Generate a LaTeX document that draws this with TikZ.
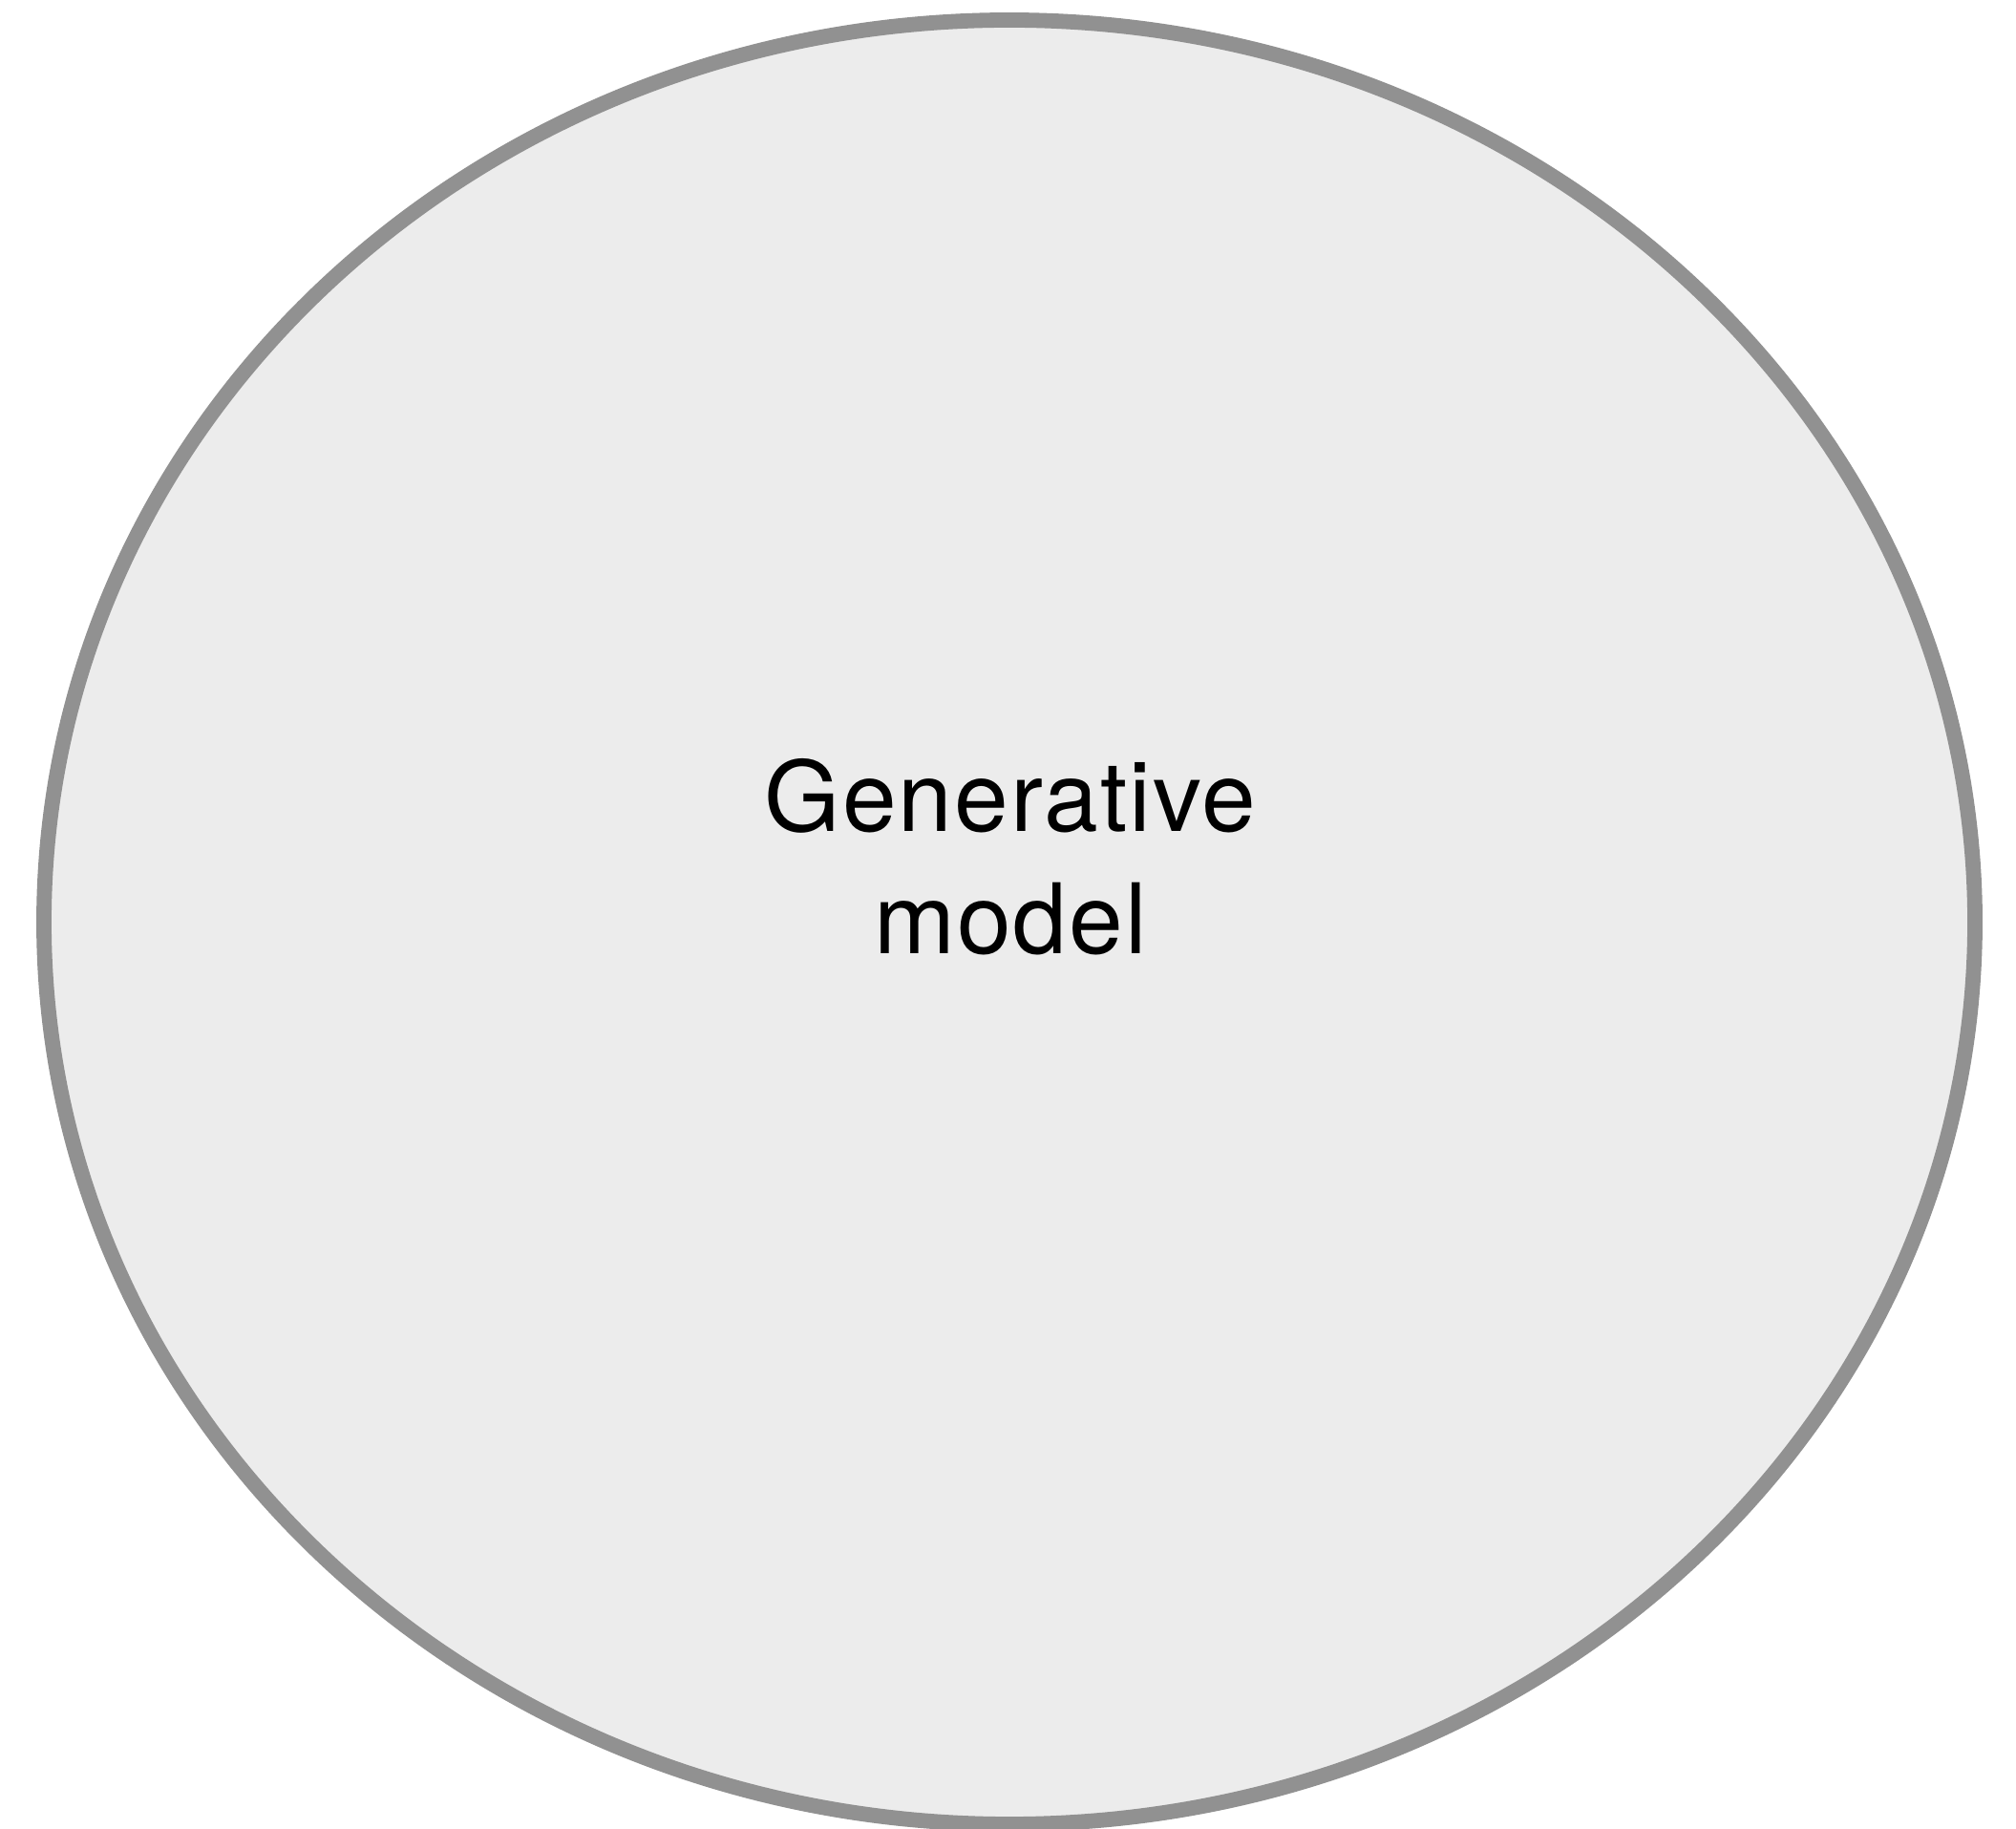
\documentclass[tikz,border=0pt]{standalone}
\usepackage{fontspec}
\setmainfont{TeX Gyre Heros}[LetterSpace=2]
\usetikzlibrary{shapes.geometric}

\definecolor{blobfill}{HTML}{ECECEC}
\definecolor{blobline}{HTML}{919191}

\tikzset{
  genblob/.style={ellipse, draw=blobline, fill=blobfill, line width=4.5pt,
    minimum width=20.22cm, minimum height=18.89cm, inner sep=0pt},
  genlabel/.style={align=center, font=\fontsize{29}{36.4}\selectfont}
}

\begin{document}
\begin{tikzpicture}
\useasboundingbox (0,0) rectangle (21.11,19.14);

% Model blob
\node[genblob] (gm) at (10.57,9.485) {};
\node[genlabel] (gmlabel) at (10.58,10.165) {Generative\\model};
\end{tikzpicture}
\end{document}
